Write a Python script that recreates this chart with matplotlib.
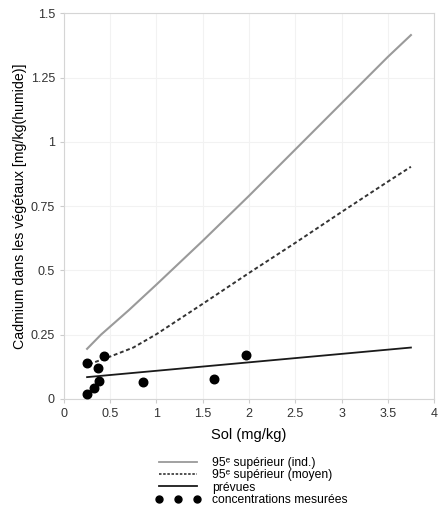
import matplotlib
matplotlib.use("Agg")
import matplotlib.pyplot as plt
from matplotlib.lines import Line2D
import numpy as np

plt.rcParams['font.family'] = ['Liberation Sans', 'DejaVu Sans']

# upper 95 (individual) curve
sol_ind = [0.25, 0.4, 0.7, 1.0, 1.5, 2.0, 2.5, 3.0, 3.5, 3.75]
cd_ind = [0.195, 0.25, 0.345, 0.445, 0.615, 0.79, 0.97, 1.15, 1.33, 1.415]

# upper 95 (mean) curve
sol_moy = [0.27, 0.5, 0.75, 1.0, 1.5, 2.0, 2.5, 3.0, 3.5, 3.75]
cd_moy = [0.135, 0.165, 0.2, 0.252, 0.37, 0.49, 0.607, 0.727, 0.845, 0.903]

# predicted
sol_prev = [0.25, 3.75]
cd_prev = [0.085, 0.20]

# measured concentrations
sol_mes = [0.25, 0.436, 0.37, 0.378, 0.33, 0.25, 0.857, 1.625, 1.968]
cd_mes = [0.141, 0.167, 0.122, 0.069, 0.044, 0.019, 0.067, 0.079, 0.170]

xticks = [0, 0.5, 1, 1.5, 2, 2.5, 3, 3.5, 4]
xticklabels = ["0", "0.5", "1", "1.5", "2", "2.5", "3", "3.5", "4"]
yticks = [0, 0.25, 0.5, 0.75, 1, 1.25, 1.5]
yticklabels = ["0", "0.25", "0.5", "0.75", "1", "1.25", "1.5"]

fig = plt.figure(figsize=(4.38, 5.08), dpi=100)
ax = fig.add_axes([0.146, 0.2146, 0.845, 0.7594])

ax.plot(sol_ind, cd_ind, color='#9a9a9a', lw=1.5)
ax.plot(sol_moy, cd_moy, color='#333333', lw=1.4, linestyle=(0, (2, 1.4)))
ax.plot(sol_prev, cd_prev, color='#1a1a1a', lw=1.3)
ax.scatter(sol_mes, cd_mes, s=38, color='black', zorder=5, clip_on=False)

ax.set_xlim(0, 4)
ax.set_ylim(0, 1.5)
ax.set_xticks(xticks)
ax.set_xticklabels(xticklabels)
ax.set_yticks(yticks)
ax.set_yticklabels(yticklabels)
ax.tick_params(labelsize=9, colors='#cccccc', labelcolor='#333333', length=3, width=0.8)
ax.grid(color='#f2f2f2', lw=0.8)
ax.set_axisbelow(True)
for s in ax.spines.values():
    s.set_color('#d5d5d5')
    s.set_linewidth(0.8)

ax.set_xlabel("Sol (mg/kg)", fontsize=10.5, labelpad=6)
ax.set_ylabel("Cadmium dans les végétaux [mg/kg(humide)]", fontsize=10.2, labelpad=3)

handles = [
    Line2D([], [], color='#9a9a9a', lw=1.3),
    Line2D([], [], color='#333333', lw=1.2, linestyle=(0, (1.5, 1))),
    Line2D([], [], color='#1a1a1a', lw=1.3),
    Line2D([], [], color='black', marker='o', linestyle='none', markersize=5),
]
labels = [
    "95ᵉ supérieur (ind.)",
    "95ᵉ supérieur (moyen)",
    "prévues",
    "concentrations mesurées",
]
fig.legend(handles, labels, loc='upper left', bbox_to_anchor=(0.355, 0.100),
           frameon=False, fontsize=8.7, numpoints=3, handlelength=3.7,
           handletextpad=1.0, labelspacing=0.02, borderpad=0, borderaxespad=0)

fig.savefig("out.png", dpi=100)
